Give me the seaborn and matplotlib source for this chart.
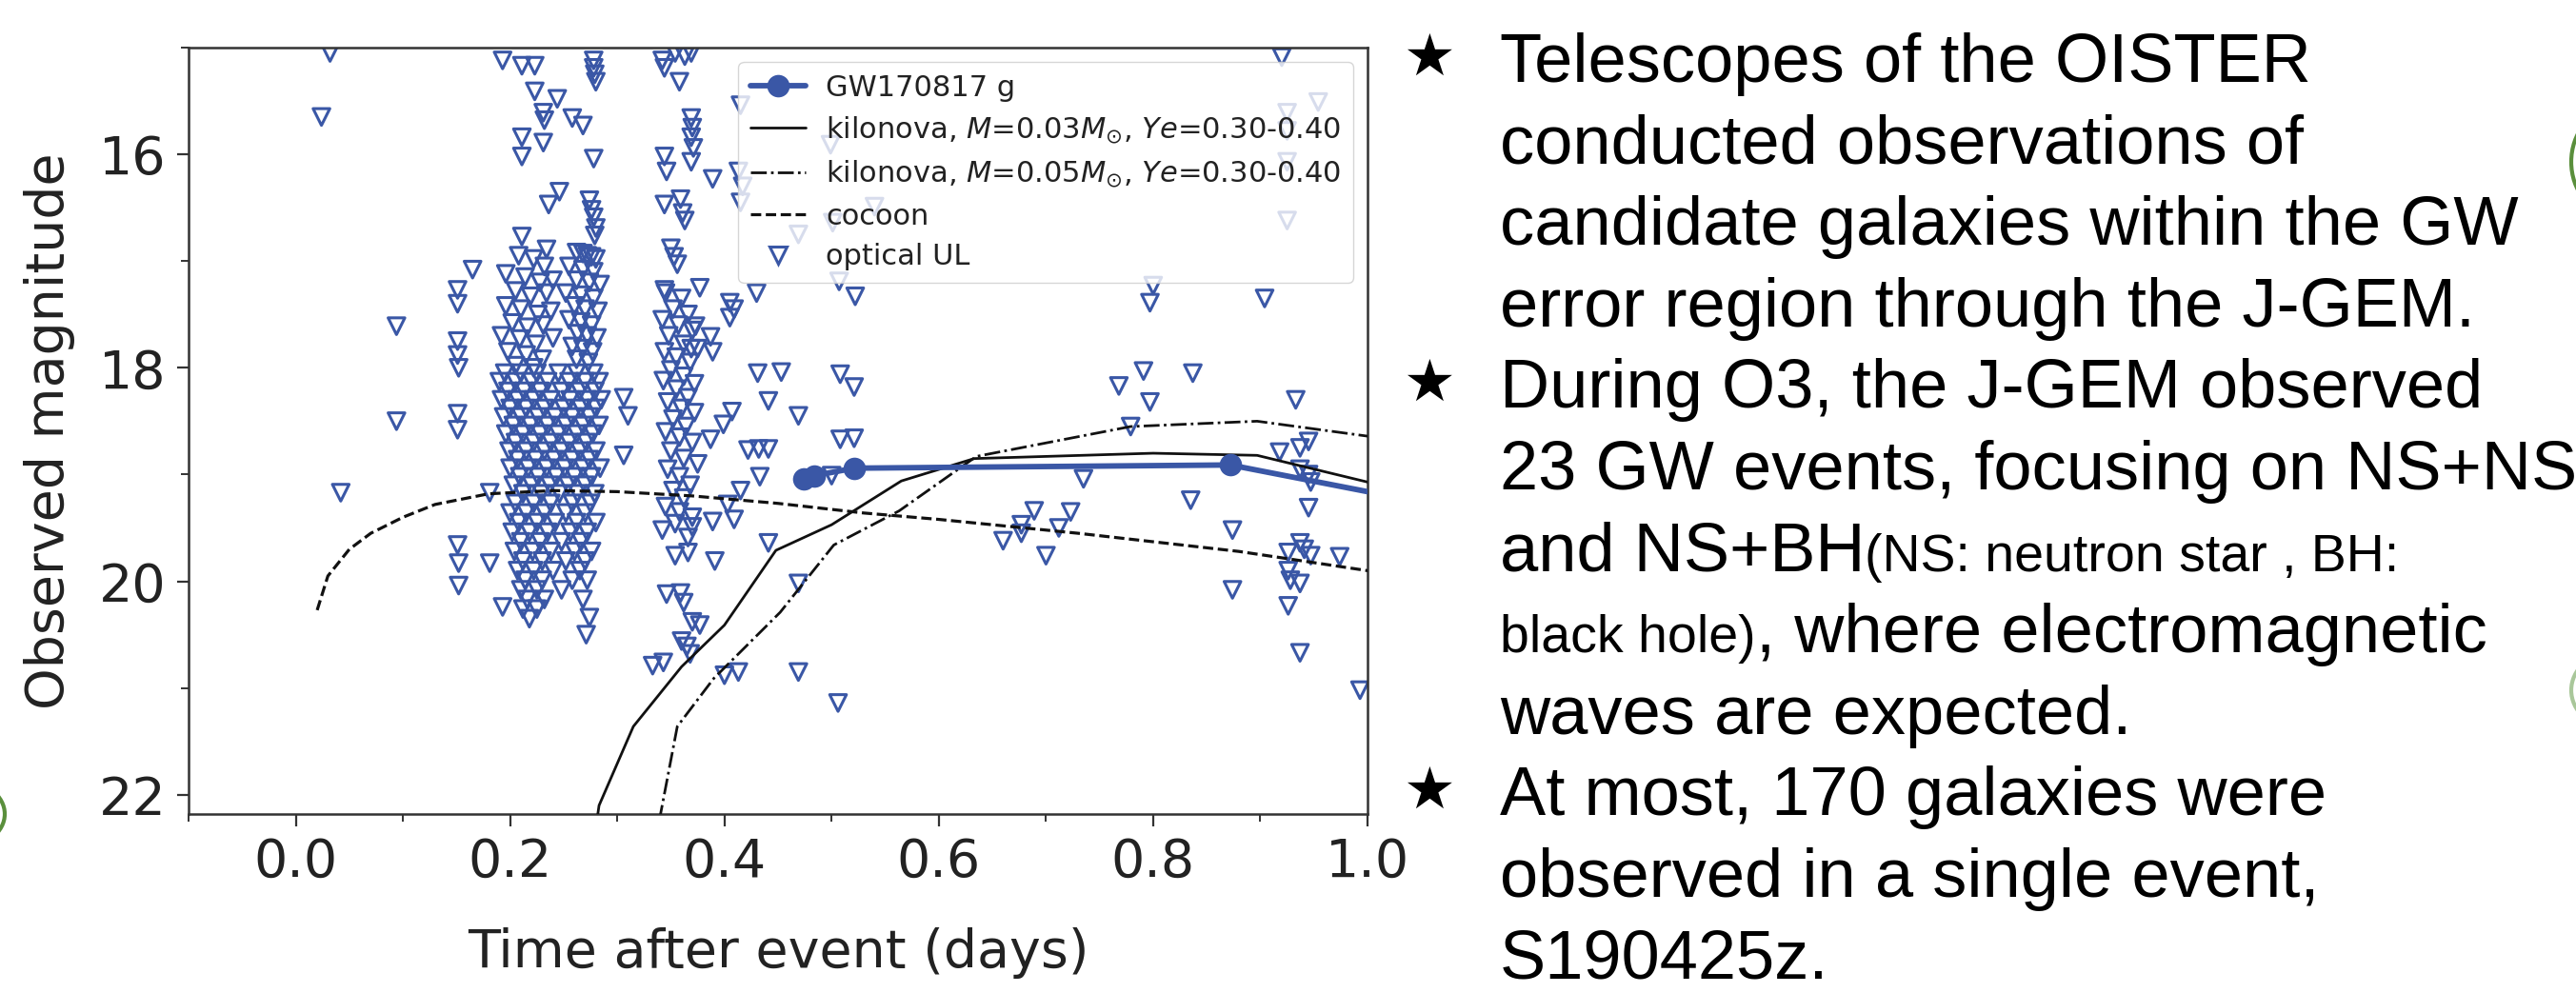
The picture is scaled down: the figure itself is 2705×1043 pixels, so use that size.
import numpy as np
import pandas as pd
import matplotlib
matplotlib.use("Agg")
import matplotlib.pyplot as plt
import seaborn as sns
from matplotlib.lines import Line2D
from matplotlib.patches import Ellipse
from matplotlib.ticker import MultipleLocator
from matplotlib.transforms import IdentityTransform

# ---------------- data ----------------
gw_t = [0.474, 0.484, 0.521, 0.872, 1.43]
gw_mag = [19.04, 19.01, 18.94, 18.91, 20.0]

kn03_t = [0.270, 0.283, 0.315, 0.360, 0.400, 0.448, 0.500, 0.565, 0.633, 0.800, 0.897, 1.000, 1.100]
kn03_mag = [23.0, 22.10, 21.36, 20.80, 20.41, 19.71, 19.47, 19.06, 18.85, 18.80, 18.82, 19.07, 19.35]

kn05_t = [0.335, 0.340, 0.356, 0.390, 0.452, 0.502, 0.563, 0.635, 0.779, 0.897, 1.000, 1.100]
kn05_mag = [23.0, 22.20, 21.36, 20.91, 20.29, 19.66, 19.34, 18.83, 18.55, 18.50, 18.64, 18.80]

cocoon_t = [0.020, 0.030, 0.050, 0.070, 0.100, 0.130, 0.180, 0.240, 0.300, 0.370, 0.450, 0.530, 0.600, 0.730, 0.880, 1.000, 1.100]
cocoon_mag = [20.27, 19.95, 19.70, 19.55, 19.40, 19.28, 19.18, 19.15, 19.16, 19.20, 19.27, 19.36, 19.42, 19.55, 19.72, 19.90, 20.05]

# optical upper limits (t [days], mag)
ul_early = [(0.032, 15.05), (0.024, 15.65), (0.094, 17.61), (0.094, 18.50), (0.042, 19.17),
            (0.151, 17.27), (0.151, 17.40), (0.151, 17.75), (0.151, 17.88), (0.152, 18.00),
            (0.151, 18.43), (0.151, 18.58), (0.151, 19.66), (0.152, 19.83), (0.152, 20.04),
            (0.165, 17.08), (0.181, 19.17), (0.181, 19.83), (0.193, 20.24)]

ul_top = [(0.193, 15.12), (0.211, 15.17), (0.223, 15.17), (0.278, 15.12), (0.278, 15.19),
          (0.279, 15.25), (0.280, 15.32), (0.223, 15.41), (0.244, 15.48), (0.231, 15.61),
          (0.232, 15.68), (0.258, 15.66), (0.268, 15.73), (0.211, 15.84), (0.231, 15.89),
          (0.211, 16.02), (0.278, 16.04), (0.236, 16.47), (0.246, 16.35), (0.274, 16.43),
          (0.276, 16.52), (0.278, 16.59), (0.280, 16.69), (0.279, 16.76), (0.211, 16.77),
          (0.234, 16.89), (0.268, 16.93), (0.276, 16.96)]

ul_left_upper = [(0.208, 16.95), (0.222, 16.98), (0.232, 17.05), (0.196, 17.12), (0.214, 17.15),
                 (0.228, 17.20), (0.240, 17.18), (0.205, 17.28), (0.219, 17.33), (0.234, 17.30),
                 (0.196, 17.42), (0.210, 17.45), (0.226, 17.50), (0.238, 17.47), (0.202, 17.58),
                 (0.216, 17.62), (0.231, 17.60), (0.192, 17.70), (0.209, 17.73), (0.224, 17.78),
                 (0.240, 17.72), (0.198, 17.85), (0.215, 17.88), (0.230, 17.92), (0.205, 17.98),
                 (0.222, 18.00)]

ul_right_upper = [(0.262, 16.92), (0.272, 16.95), (0.280, 16.98), (0.255, 17.05), (0.268, 17.08),
                  (0.278, 17.10), (0.262, 17.18), (0.274, 17.20), (0.284, 17.22), (0.252, 17.30),
                  (0.266, 17.32), (0.278, 17.35), (0.260, 17.42), (0.270, 17.45), (0.282, 17.47),
                  (0.255, 17.55), (0.266, 17.57), (0.276, 17.60), (0.263, 17.68), (0.272, 17.70),
                  (0.281, 17.72), (0.258, 17.80), (0.268, 17.82), (0.277, 17.85), (0.262, 17.92),
                  (0.273, 17.95)]

dense_mag = [18.05, 18.13, 18.22, 18.30, 18.38, 18.46, 18.54, 18.62, 18.70, 18.78,
             18.86, 18.94, 19.02, 19.10, 19.18, 19.27, 19.36, 19.45, 19.54, 19.63,
             19.72, 19.81, 19.90, 19.99, 20.08, 20.17, 20.26, 20.35]
dense_t = [[0.195, 0.210, 0.225, 0.245, 0.262, 0.278],
           [0.190, 0.205, 0.220, 0.235, 0.255, 0.270, 0.283],
           [0.198, 0.213, 0.228, 0.248, 0.265, 0.279],
           [0.192, 0.207, 0.222, 0.238, 0.256, 0.272, 0.285],
           [0.200, 0.215, 0.232, 0.250, 0.266, 0.280],
           [0.194, 0.210, 0.226, 0.242, 0.258, 0.274],
           [0.203, 0.219, 0.235, 0.252, 0.268, 0.283],
           [0.196, 0.212, 0.228, 0.245, 0.262, 0.277],
           [0.205, 0.222, 0.238, 0.255, 0.271],
           [0.199, 0.215, 0.232, 0.248, 0.265, 0.280],
           [0.207, 0.224, 0.241, 0.258, 0.274],
           [0.200, 0.217, 0.234, 0.251, 0.268, 0.284],
           [0.209, 0.226, 0.243, 0.260, 0.276],
           [0.203, 0.220, 0.237, 0.254, 0.270],
           [0.212, 0.229, 0.246, 0.263, 0.279],
           [0.205, 0.222, 0.238, 0.258, 0.275],
           [0.200, 0.215, 0.232, 0.252, 0.270],
           [0.208, 0.225, 0.242, 0.262, 0.280],
           [0.202, 0.218, 0.235, 0.256, 0.272],
           [0.210, 0.228, 0.248, 0.266],
           [0.204, 0.221, 0.238, 0.260, 0.276],
           [0.212, 0.230, 0.252, 0.270],
           [0.207, 0.222, 0.240, 0.265],
           [0.214, 0.230, 0.258, 0.272],
           [0.210, 0.225, 0.248],
           [0.216, 0.232, 0.268],
           [0.212, 0.225],
           [0.218]]

ul_col036 = [(0.342, 15.12), (0.344, 15.19), (0.354, 15.05), (0.363, 15.08), (0.369, 15.05),
             (0.358, 15.32), (0.369, 15.66), (0.370, 15.75), (0.369, 15.84), (0.371, 15.94),
             (0.369, 16.07), (0.344, 16.02), (0.346, 16.16), (0.344, 16.47), (0.359, 16.42),
             (0.361, 16.55), (0.363, 16.62), (0.350, 16.88), (0.353, 16.96), (0.356, 17.03),
             (0.344, 17.27), (0.377, 17.25), (0.345, 17.30), (0.360, 17.35), (0.352, 17.45),
             (0.366, 17.50), (0.342, 17.55), (0.357, 17.60), (0.370, 17.65), (0.348, 17.70),
             (0.362, 17.78), (0.375, 17.82), (0.344, 17.85), (0.355, 17.90), (0.368, 17.95),
             (0.350, 18.02), (0.362, 18.08), (0.343, 18.12), (0.372, 18.15), (0.355, 18.20),
             (0.366, 18.28), (0.347, 18.32), (0.360, 18.38), (0.372, 18.42), (0.352, 18.48),
             (0.364, 18.55), (0.345, 18.60), (0.358, 18.65), (0.370, 18.70), (0.350, 18.78),
             (0.362, 18.85), (0.375, 18.90), (0.347, 18.95), (0.358, 19.02), (0.368, 19.10),
             (0.352, 19.15), (0.362, 19.22), (0.345, 19.30), (0.358, 19.35), (0.370, 19.40),
             (0.342, 19.52), (0.354, 19.46), (0.370, 19.49), (0.366, 19.59), (0.354, 19.76),
             (0.366, 19.73), (0.346, 20.12), (0.359, 20.11), (0.362, 20.20), (0.370, 20.38),
             (0.377, 20.41), (0.360, 20.56), (0.365, 20.61), (0.368, 20.68), (0.333, 20.79),
             (0.343, 20.76), (0.271, 20.50), (0.274, 20.34), (0.306, 18.28), (0.310, 18.45),
             (0.306, 18.82)]

ul_mid = [(0.389, 16.23), (0.413, 16.16), (0.415, 15.54), (0.415, 16.45), (0.417, 16.30),
          (0.499, 15.91), (0.540, 16.49), (0.501, 16.64), (0.469, 16.75), (0.507, 17.19),
          (0.522, 17.33), (0.430, 17.30), (0.405, 17.39), (0.409, 17.45), (0.405, 17.53),
          (0.373, 17.61), (0.387, 17.71), (0.389, 17.85), (0.369, 17.82), (0.431, 18.05),
          (0.453, 18.04), (0.441, 18.31), (0.508, 18.06), (0.521, 18.18), (0.469, 18.45),
          (0.407, 18.41), (0.399, 18.53), (0.387, 18.67), (0.422, 18.77), (0.432, 18.76),
          (0.441, 18.76), (0.433, 19.02), (0.508, 18.67), (0.521, 18.66), (0.500, 19.01),
          (0.389, 19.44), (0.409, 19.42), (0.403, 19.28), (0.415, 19.15), (0.441, 19.64),
          (0.391, 19.81), (0.469, 20.02), (0.469, 20.85), (0.506, 21.14), (0.400, 20.88),
          (0.413, 20.85)]

ul_late = [(0.735, 19.04), (0.689, 19.34), (0.723, 19.35), (0.677, 19.47), (0.677, 19.55),
           (0.712, 19.50), (0.660, 19.62), (0.700, 19.76), (0.768, 18.17), (0.791, 18.03),
           (0.797, 18.32), (0.837, 18.05), (0.779, 18.55), (0.835, 19.24), (0.874, 19.52),
           (0.874, 20.08), (0.933, 18.30), (0.918, 18.79), (0.937, 18.75), (0.945, 18.69),
           (0.937, 18.95), (0.945, 19.00), (0.947, 19.07), (0.945, 19.31), (0.937, 19.64),
           (0.941, 19.70), (0.926, 19.73), (0.947, 19.76), (0.974, 19.77), (0.926, 19.90),
           (0.928, 19.99), (0.937, 20.02), (0.926, 20.23), (0.937, 20.67), (0.993, 21.02),
           (0.920, 15.09), (0.954, 15.51), (0.925, 15.61), (0.925, 15.78), (0.925, 16.07),
           (0.925, 16.62), (0.800, 17.23), (0.797, 17.39), (0.904, 17.35)]

# ---------------- style ----------------
sns.set_style("ticks")
plt.rcParams['font.family'] = ['DejaVu Sans']
BLUE = '#3a57a6'
DARK = '#222222'
LINE = '#111111'

W, H = 2705, 1043
fig = plt.figure(figsize=(W / 100, H / 100), dpi=100)
fig.patch.set_facecolor('white')
ax = fig.add_axes([198 / W, 1 - 855 / H, (1436 - 198) / W, (855 - 50) / H])

# assemble upper-limit table
pts = ul_early + ul_top + ul_left_upper + ul_right_upper + ul_col036 + ul_mid + ul_late
for m, row in zip(dense_mag, dense_t):
    pts += [(t, m) for t in row]
df_ul = pd.DataFrame(pts, columns=['t', 'mag'])

sns.scatterplot(data=df_ul, x='t', y='mag', marker='v', s=160, ax=ax,
                color=BLUE, linewidth=2.2, legend=False, zorder=2)
coll = ax.collections[-1]
coll.set_facecolor('none')
coll.set_edgecolor(BLUE)

DASH = (0, (3.4, 1.5))
DASHDOT = (0, (6.0, 1.6, 1.0, 1.6))
sns.lineplot(x=cocoon_t, y=cocoon_mag, sort=False, estimator=None, ax=ax,
             color=LINE, lw=2.3, linestyle=DASH, zorder=3)
sns.lineplot(x=kn03_t, y=kn03_mag, sort=False, estimator=None, ax=ax,
             color=LINE, lw=2.0, zorder=3)
sns.lineplot(x=kn05_t, y=kn05_mag, sort=False, estimator=None, ax=ax,
             color=LINE, lw=2.0, linestyle=DASHDOT, zorder=3)
sns.lineplot(x=gw_t, y=gw_mag, sort=False, estimator=None, ax=ax,
             color=BLUE, lw=4.2, marker='o', markersize=17, mec=BLUE, mfc=BLUE,
             mew=0, zorder=4)

ax.set_xlim(-0.1, 1.0)
ax.set_ylim(22.18, 15.0)
ax.xaxis.set_major_locator(MultipleLocator(0.2))
ax.xaxis.set_minor_locator(MultipleLocator(0.1))
ax.yaxis.set_major_locator(MultipleLocator(2))
ax.yaxis.set_minor_locator(MultipleLocator(1))
ax.tick_params(which='major', length=9, width=1.6, labelsize=40, pad=8,
               colors='#333333', labelcolor=DARK)
ax.tick_params(which='minor', length=5.5, width=1.4, colors='#333333')
for sp in ax.spines.values():
    sp.set_visible(True)
    sp.set_linewidth(1.8)
    sp.set_color('#333333')

ax.set_xlabel('Time after event (days)', fontsize=40, color=DARK, labelpad=30)
ax.set_ylabel('Observed magnitude', fontsize=40, color=DARK, labelpad=18)

handles = [
    Line2D([], [], color=BLUE, lw=4.2, marker='o', markersize=17, mew=0),
    Line2D([], [], color=LINE, lw=2.0),
    Line2D([], [], color=LINE, lw=2.0, linestyle=DASHDOT),
    Line2D([], [], color=LINE, lw=2.3, linestyle=DASH),
    Line2D([], [], color=BLUE, lw=0, marker='v', markersize=12.5, mfc='none',
           mec=BLUE, mew=2.2),
]
labels = ['GW170817 g',
          r'kilonova, $M$=0.03$M_{\odot}$, $Ye$=0.30-0.40',
          r'kilonova, $M$=0.05$M_{\odot}$, $Ye$=0.30-0.40',
          'cocoon', 'optical UL']
leg = ax.legend(handles, labels, loc='upper right', fontsize=22, frameon=True,
                framealpha=0.8, edgecolor='#cccccc', fancybox=True,
                borderaxespad=0.5, handlelength=1.9, handletextpad=0.7,
                labelspacing=0.45)
for t in leg.get_texts():
    t.set_color(DARK)

# ---------------- right-hand bullet text ----------------
BIG = 52
SMALL = 40
TX = 1575
STAR_X = 1500
base = [86 + 85.6 * i for i in range(12)]
tfam = ['Liberation Sans', 'DejaVu Sans']


def fx(px):
    return px / W


def fy(py):
    return 1 - py / H


lines = {
    0: "Telescopes of the OISTER",
    1: "conducted observations of",
    2: "candidate galaxies within the GW",
    3: "error region through the J-GEM.",
    4: "During O3, the J-GEM observed",
    5: "23 GW events, focusing on NS+NS",
    8: "waves are expected.",
    9: "At most, 170 galaxies were",
    10: "observed in a single event,",
    11: "S190425z.",
}
for i, s in lines.items():
    fig.text(fx(TX), fy(base[i]), s, fontsize=BIG, family=tfam, va='baseline',
             ha='left', color='black')
for i in (0, 4, 9):
    fig.text(fx(STAR_X), fy(base[i] - 24), '\u2605', fontsize=44,
             family=['DejaVu Sans'], va='center', ha='center', color='black')

renderer = fig.canvas.get_renderer()
# mixed-size line 6
t1 = fig.text(fx(TX), fy(base[6]), "and NS+BH", fontsize=BIG, family=tfam,
              va='baseline', ha='left', color='black')
bb = t1.get_window_extent(renderer)
fig.text(bb.x1 / W, fy(base[6]), "(NS: neutron star , BH:", fontsize=SMALL,
         family=tfam, va='baseline', ha='left', color='black')
# mixed-size line 7
t2 = fig.text(fx(TX), fy(base[7]), "black hole)", fontsize=SMALL, family=tfam,
              va='baseline', ha='left', color='black')
bb = t2.get_window_extent(renderer)
fig.text(bb.x1 / W, fy(base[7]), ", where electromagnetic", fontsize=BIG,
         family=tfam, va='baseline', ha='left', color='black')

# slide decorations peeking in at the edges (pixel coordinates, y from bottom)
GREEN = '#5a8f3c'
for cx, cy, w, h, col in [(2745, H - 170, 90, 110, GREEN),
                          (-40, H - 855, 90, 70, GREEN),
                          (2745, H - 725, 90, 80, '#a9c79a')]:
    fig.patches.append(Ellipse((cx, cy), w, h, transform=IdentityTransform(),
                               facecolor='none', edgecolor=col, lw=3,
                               figure=fig))

fig.savefig('out.png', dpi=100, facecolor='white')
